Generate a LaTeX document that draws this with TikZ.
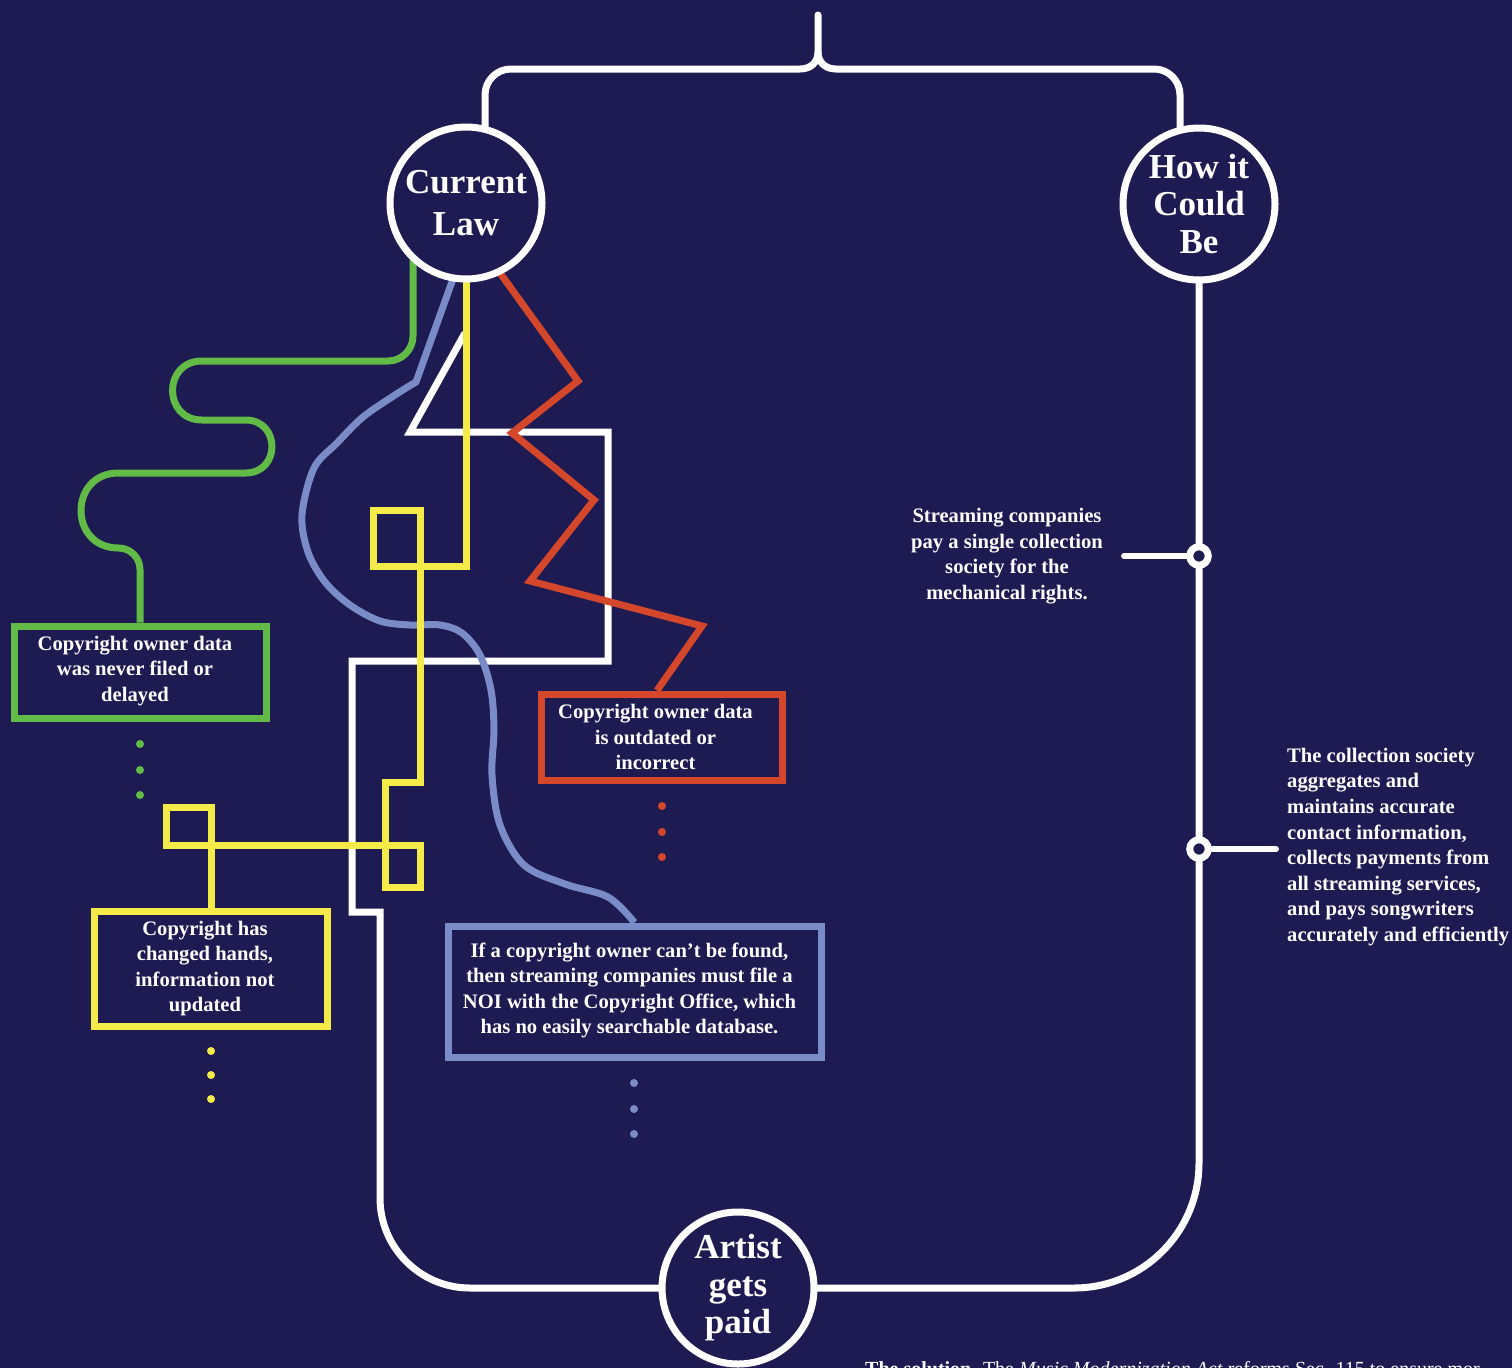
\documentclass[tikz,border=0pt]{standalone}
\usepackage{fontspec}
\setmainfont{Liberation Serif}
\usetikzlibrary{calc}
\definecolor{bgc}{HTML}{1E1A52}
\definecolor{grn}{HTML}{62BB46}
\definecolor{ylw}{HTML}{F4EA48}
\definecolor{rd}{HTML}{D4472A}
\definecolor{blu}{HTML}{7A8CC8}
\pgfdeclarelayer{back}
\pgfdeclarelayer{wires}
\pgfsetlayers{back,wires,main}
\begin{document}
\begin{tikzpicture}[x=1pt,y=-1pt,
  hub/.style={circle,draw=white,line width=7pt,fill=bgc,text=white,minimum size=152pt,inner sep=0pt,align=center,font=\bfseries\fontsize{35}{37.5}\selectfont},
  card/.style={draw=#1,line width=7pt,fill=bgc,inner sep=0pt},
  cardtext/.style={text=white,inner sep=0pt,align=center,font=\bfseries\fontsize{20.6}{25.5}\selectfont},
  note/.style={text=white,inner sep=0pt,font=\bfseries\fontsize{20.6}{25.6}\selectfont},
  ring/.style={circle,draw=white,line width=7pt,fill=bgc,minimum size=18.5pt,inner sep=0pt},
  wire/.style={line width=7pt,draw=#1}
]
\useasboundingbox (0,0) rectangle (1512,1368);
\clip (0,0) rectangle (1512,1368);
\begin{pgfonlayer}{back}
\fill[bgc] (0,0) rectangle (1512,1368);
\end{pgfonlayer}

% hubs
\node[hub,font=\bfseries\fontsize{35}{42}\selectfont] (cl) at (466,203) {Current\\Law};
\node[hub] (hc) at (1199,204) {How it\\Could\\Be};
\node[hub] (ag) at (738,1288) {Artist\\gets\\paid};

% cards
\node[card=grn,minimum width=252pt,minimum height=92pt] (gb) at (140,672) {};
\node[cardtext] (gt) at ($(gb.center)+(-5,-1)$) {Copyright owner data\\was never filed or\\delayed};
\node[card=rd,minimum width=241pt,minimum height=86pt] (rb) at (661.5,737) {};
\node[cardtext] (rt) at ($(rb.center)+(-6,0)$) {Copyright owner data\\is outdated or\\incorrect};
\node[card=ylw,minimum width=233pt,minimum height=115pt] (yb) at (211,968.5) {};
\node[cardtext] (yt) at ($(yb.center)+(-6,0)$) {Copyright has\\changed hands,\\information not\\updated};
\node[card=blu,minimum width=373pt,minimum height=131pt] (bb) at (634.5,991.5) {};
\node[cardtext] (bt) at ($(bb.center)+(-5,-1)$) {If a copyright owner can’t be found,\\then streaming companies must file a\\NOI with the Copyright Office, which\\has no easily searchable database.};

% rings on the right line
\node[ring] (r1) at (1199,556) {};
\node[ring] (r2) at (1199,849) {};
\coordinate (s1) at (1124,556);
\coordinate (s2) at (1276,849);

% notes
\node[note,align=center] (n1) at (1007,556) {Streaming companies\\pay a single collection\\society for the\\mechanical rights.};
\node[note,align=left,anchor=west] (n2) at (1287,847) {The collection society\\aggregates and\\maintains accurate\\contact information,\\collects payments from\\all streaming services,\\and pays songwriters\\accurately and efficiently};

\node[anchor=base west,inner sep=0pt,text=white,font=\fontsize{20}{24}\selectfont] (sol) at (865,1375) {\textbf{The solution.} The \textit{Music Modernization Act} reforms Sec. 115 to ensure mor};

\begin{pgfonlayer}{wires}
% white brace and frame
\draw[wire=white,line cap=round] ($(cl.center)+(19,0)$) -- (485,95) .. controls (485,80.6) and (496.6,69) .. (511,69) -- (800,69) .. controls (811,69) and (818,62) .. (818,52) -- (818,15);
\draw[wire=white] (818,52) .. controls (818,62) and (825,69) .. (836,69) -- (1154,69) .. controls (1168.4,69) and (1180,80.6) .. (1180,95) -- ($(hc.center)+(-19,0)$);
\draw[wire=white] (hc.center) -- (1199,1163) .. controls (1199,1232) and (1143,1288) .. (1074,1288) -- (ag.center);
\draw[wire=white] (ag.center) -- (470,1288) .. controls (420.3,1288) and (380,1247.7) .. (380,1198) -- (380,912) -- (352,912) -- (352,661) -- (608,661) -- (608,432) -- (410,432) -- (465,333);
\draw[wire=white,line width=6pt,line cap=round] (s1) -- (r1);
\draw[wire=white,line width=6pt,line cap=round] (r2) -- (s2);
% blue
\draw[wire=blu] ($(cl.center)+(-8,62)$) -- (416,382) -- plot[smooth,tension=0.55] coordinates {(416,382) (395,395) (363,417) (337,443) (314,468) (302,515) (308,552) (325,582) (350,605) (380,621) (410,625) (440,625) (462,633) (480,655) (491,690) (494,730) (492,775) (500,825) (524,865) (565,884) (608,897) (634,922)} -- (bb.north);
% yellow
\draw[wire=ylw] (cl.center) -- (466,566) -- (373,566) -- (373,510) -- (420,510) -- (420,782) -- (385,782) -- (385,887) -- (420,887) -- (420,845) -- (166,845) -- (166,807) -- (211,807) -- (yb.north);
% red
\draw[wire=rd] ($(cl.center)+(21,52)$) -- (578,381) -- (512,433) -- (594,500) -- (530,581) -- (702,626) -- ($(rb.north)+(-4.5,0)$);
% green
\draw[wire=grn] ($(cl.center)+(-53,37)$) -- (413,336) .. controls (413,349.8) and (401.8,361) .. (388,361) -- (202,361) .. controls (162.7,361) and (162.7,420) .. (202,420) -- (245.5,420) .. controls (280.8,420) and (280.8,473) .. (245.5,473) -- (118.5,473) .. controls (68.5,473) and (68.5,548) .. (118.5,548) .. controls (130.4,548) and (140,557.6) .. (140,569.5) -- (gb.north);
\end{pgfonlayer}

% dots
\foreach \yy in {744,770,795} \fill[grn] (140,\yy) circle[radius=4pt];
\foreach \yy in {806,832,857} \fill[rd] (662,\yy) circle[radius=4pt];
\foreach \yy in {1051,1075,1099} \fill[ylw] (211,\yy) circle[radius=4pt];
\foreach \yy in {1083,1109,1134} \fill[blu] (634,\yy) circle[radius=4pt];
\end{tikzpicture}
\end{document}
